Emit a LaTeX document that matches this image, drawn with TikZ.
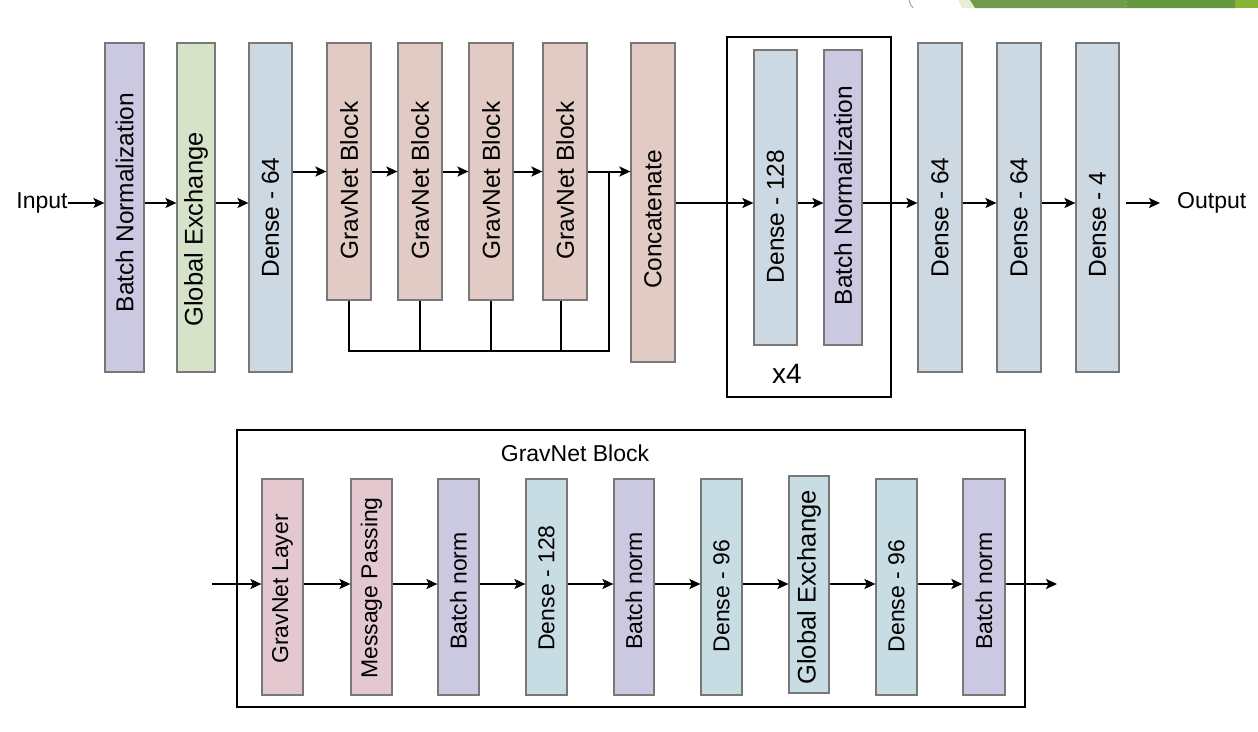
\documentclass[tikz,border=0pt]{standalone}
\usepackage{fontspec}
\setmainfont{Liberation Sans}
\usepackage{xcolor}
\usepackage{tikz}
\usetikzlibrary{arrows.meta}
\definecolor{bnfill}{RGB}{203, 201, 225}
\definecolor{gefill}{RGB}{214, 227, 200}
\definecolor{densefill}{RGB}{204, 217, 226}
\definecolor{gravfill}{RGB}{225, 203, 196}
\definecolor{pinkfill}{RGB}{227, 201, 207}
\definecolor{cyanfill}{RGB}{199, 220, 227}
\definecolor{boxgray}{RGB}{120, 120, 120}
\definecolor{leafpale}{RGB}{228, 239, 214}
\definecolor{leafmid}{RGB}{111, 155, 75}
\definecolor{leafdark}{RGB}{102, 153, 61}
\definecolor{leaflime}{RGB}{134, 182, 52}

% texte vertical, decale vers le bas de #1
\newcommand{\vtext}[2][0pt]{\rotatebox{90}{\kern-#1\relax #2\kern#1\relax}}

\tikzset{
  layer/.style={draw=boxgray, line width=1.2pt, fill=#1, inner sep=0pt},
  toplayer/.style={layer=#1, font=\fontsize{24.5}{29}\selectfont},
  botlayer/.style={layer=#1, font=\fontsize{23}{28}\selectfont},
  frame/.style={draw=black, line width=2.2pt, inner sep=0pt},
  label/.style={inner sep=0pt, font=\fontsize{23}{28}\selectfont},
  flow/.style={->, line width=2pt, black},
  wire/.style={line width=2pt, black}
}

\begin{document}
\begin{tikzpicture}[x=1pt, y=-1pt, >={Stealth[length=11pt, width=10pt, inset=2.5pt]}]
			\useasboundingbox (0,0) rectangle (1258,731);
			
			% BANDE DU HAUT
			\fill[leafpale] (958,0) -- (970,0) -- (975,8) -- (962,8) -- cycle;
			\fill[leafmid] (970,0) -- (1127,0) -- (1125,8) -- (975,8) -- cycle;
			\fill[leafdark] (1127,0) -- (1235,0) -- (1235,8) -- (1125,8) -- cycle;
			\fill[leaflime] (1235,0) -- (1258,0) -- (1258,8) -- (1235,8) -- cycle;
			\draw[gray!70, line width=1pt] (909,0) .. controls (910,4) .. (913,8);
			
			% RESEAU : RANGEE DU HAUT
			\coordinate (mainline) at (0,203);
			\node[label] (input) at (42,203) {Input};
			
			\node[toplayer=bnfill, minimum width=39, minimum height=329] (bn1) at (124.5,207.5) {\vtext[-5pt]{Batch Normalization}};
			\node[toplayer=gefill, minimum width=38, minimum height=329] (ge1) at (196,207.5) {\fontsize{25.5}{29}\selectfont\vtext[22pt]{Global Exchange}};
			\node[toplayer=densefill, minimum width=43, minimum height=329] (d64) at (270.5,207.5) {\vtext[10pt]{Dense - 64}};
			
			% GRAVNET BLOCKS
			\node[toplayer=gravfill, minimum width=44, minimum height=257] (gb1) at (349,171.5) {\vtext[9pt]{GravNet Block}};
			\node[toplayer=gravfill, minimum width=44, minimum height=257] (gb2) at (420,171.5) {\vtext[9pt]{GravNet Block}};
			\node[toplayer=gravfill, minimum width=44, minimum height=257] (gb3) at (491,171.5) {\vtext[9pt]{GravNet Block}};
			\node[toplayer=gravfill, minimum width=44, minimum height=257] (gb4) at (565,171.5) {\vtext[9pt]{GravNet Block}};
			\node[toplayer=gravfill, minimum width=44, minimum height=319] (cat) at (653,202.5) {\vtext[17pt]{Concatenate}};
			
			% BLOC REPETE x4
			\node[frame, minimum width=164, minimum height=360] (rep) at (809,217) {};
			\node[toplayer=densefill, minimum width=43, minimum height=295] (d128) at (775.5,197.5) {\vtext[19pt]{Dense - 128}};
			\node[toplayer=bnfill, minimum width=38, minimum height=295] (bn2) at (843,197.5) {\vtext[-2pt]{Batch Normalization}};
			\node[inner sep=0pt, font=\fontsize{28}{32}\selectfont] (times) at (787,374) {x4};
			
			% SORTIE
			\node[toplayer=densefill, minimum width=44, minimum height=329] (d64a) at (940,207.5) {\vtext[10pt]{Dense - 64}};
			\node[toplayer=densefill, minimum width=44, minimum height=329] (d64b) at (1019,207.5) {\vtext[10pt]{Dense - 64}};
			\node[toplayer=densefill, minimum width=43, minimum height=329] (d4) at (1097.5,207.5) {\vtext[17pt]{Dense - 4}};
			\node[label, anchor=west] (output) at (1177,203) {Output};
			
			% FLECHES DU HAUT
			\draw[flow] (input.east) -- (bn1.west |- input);
			\draw[flow] (bn1.east |- mainline) -- (ge1.west |- mainline);
			\draw[flow] (ge1.east |- mainline) -- (d64.west |- mainline);
			\draw[flow] (d64.east |- gb1) -- (gb1);
			\draw[flow] (gb1) -- (gb2);
			\draw[flow] (gb2) -- (gb3);
			\draw[flow] (gb3) -- (gb4);
			\draw[flow] (gb4) -- (cat.west |- gb4);
			\draw[flow] (cat.east |- mainline) -- (d128.west |- mainline);
			\draw[flow] (d128.east |- mainline) -- (bn2.west |- mainline);
			\draw[flow] (bn2.east |- mainline) -- (d64a.west |- mainline);
			\draw[flow] (d64a.east |- mainline) -- (d64b.west |- mainline);
			\draw[flow] (d64b.east |- mainline) -- (d4.west |- mainline);
			\draw[flow] ([xshift=6pt]d4.east |- mainline) -- ([xshift=-17pt]output.west);
			
			% CONNEXIONS VERS CONCATENATE
			\coordinate (skipend) at (609,351);
			\draw[wire] (gb1.south) |- (skipend) |- (gb4.east);
			\draw[wire] (gb2.south) -- (gb2.south |- skipend);
			\draw[wire] (gb3.south) -- (gb3.south |- skipend);
			\draw[wire] ([xshift=-4pt]gb4.south) -- ([xshift=-4pt]gb4.south |- skipend);
			
			% DETAIL D'UN GRAVNET BLOCK
			\node[frame, minimum width=788, minimum height=277] (blk) at (631,568.5) {};
			\node[label] (blktitle) at (575,453) {GravNet Block};
			\coordinate (bin) at (212,584);
			\coordinate (bout) at (1057,584);
			
			\node[botlayer=pinkfill, minimum width=41, minimum height=216] (b1) at (282.5,587) {\vtext[2pt]{GravNet Layer}};
			\node[botlayer=pinkfill, minimum width=41, minimum height=216] (b2) at (371.5,587) {\vtext[1pt]{Message Passing}};
			\node[botlayer=bnfill, minimum width=41, minimum height=216] (b3) at (458.5,587) {\vtext[4pt]{Batch norm}};
			\node[botlayer=cyanfill, minimum width=41, minimum height=216] (b4) at (546.5,587) {\vtext[1pt]{Dense - 128}};
			\node[botlayer=bnfill, minimum width=40, minimum height=216] (b5) at (634,587) {\vtext[4pt]{Batch norm}};
			\node[botlayer=cyanfill, minimum width=41, minimum height=216] (b6) at (721.5,587) {\vtext[9pt]{Dense - 96}};
			\node[botlayer=cyanfill, minimum width=40, minimum height=217] (b7) at (809,584.5) {\fontsize{25.5}{29}\selectfont\vtext[3pt]{Global Exchange}};
			\node[botlayer=cyanfill, minimum width=41, minimum height=216] (b8) at (896.5,587) {\vtext[9pt]{Dense - 96}};
			\node[botlayer=bnfill, minimum width=42, minimum height=216] (b9) at (984,587) {\vtext[4pt]{Batch norm}};
			
			% FLECHES DU BAS
			\draw[flow] (bin) -- (b1.west |- bin);
			\draw[flow] (b1.east |- bin) -- (b2.west |- bin);
			\draw[flow] (b2.east |- bin) -- (b3.west |- bin);
			\draw[flow] (b3.east |- bin) -- (b4.west |- bin);
			\draw[flow] (b4.east |- bin) -- (b5.west |- bin);
			\draw[flow] (b5.east |- bin) -- (b6.west |- bin);
			\draw[flow] (b6.east |- bin) -- (b7.west |- bin);
			\draw[flow] (b7.east |- bin) -- (b8.west |- bin);
			\draw[flow] (b8.east |- bin) -- (b9.west |- bin);
			\draw[flow] (b9.east |- bin) -- (bout);
			
		\end{tikzpicture}
\end{document}
